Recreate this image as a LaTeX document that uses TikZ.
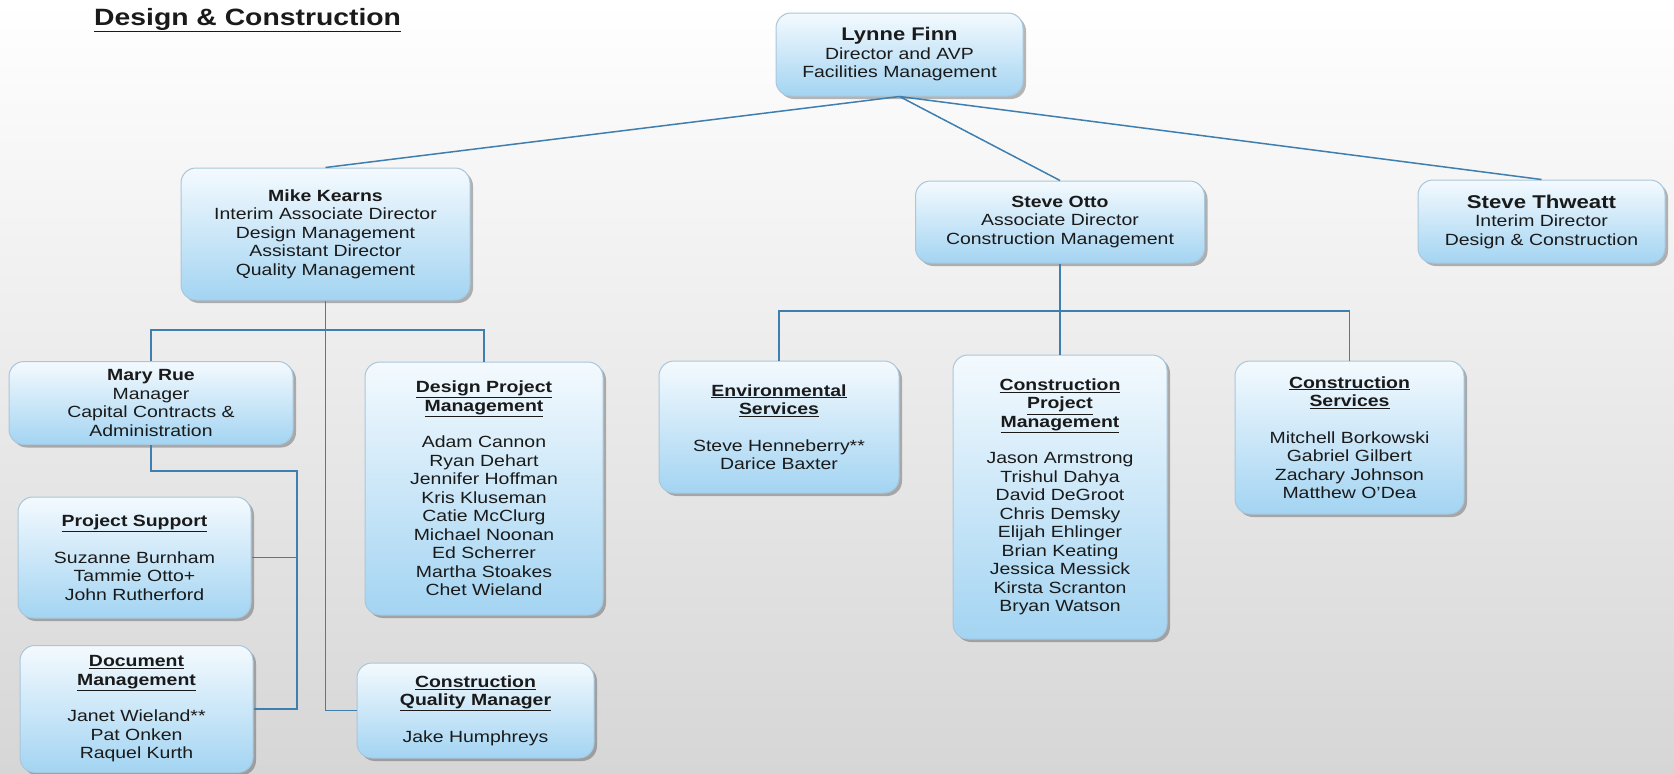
\documentclass[tikz,border=0pt]{standalone}
\usepackage{fontspec}
\setmainfont{Liberation Sans}[FakeStretch=1.2]
\usetikzlibrary{shadows}
\definecolor{ink}{HTML}{1A1A1A}
\definecolor{wireblue}{HTML}{3F7FB0}
\definecolor{boxtop}{HTML}{F4FAFE}
\definecolor{boxbot}{HTML}{A3D4F2}
\definecolor{boxedge}{HTML}{A8C6DC}
\definecolor{bgbot}{HTML}{D6D6D6}
\newcommand{\hd}[1]{\textbf{\underline{#1}}}
\tikzset{
  unit/.style={draw=boxedge, line width=1pt, rounded corners=15pt,
    top color=boxtop, bottom color=boxbot,
    drop shadow={shadow xshift=3pt, shadow yshift=-3pt, opacity=0.35, fill=black!80},
    align=center, inner sep=0pt, text=ink, font=\fontsize{16.2}{18.5}\selectfont},
  wh/.style 2 args={minimum width=#1pt, minimum height=#2pt},
  link/.style={draw=wireblue, line width=1.5pt},
}

\begin{document}
\begin{tikzpicture}[x=1pt, y=-1pt]
\useasboundingbox (0,0) rectangle (1674,774);
\shade[top color=white, bottom color=bgbot] (0,0) rectangle (1674,774);
\node[anchor=base west, inner sep=0pt, text=ink, font=\fontsize{23.6}{28}\selectfont\bfseries] (title) at (94,25) {\underline{Design \& Construction}};
% top
\node[unit, wh={247}{83}] (lynne) at (899.5,54.5) {{\fontsize{18.3}{20}\selectfont\textbf{Lynne Finn}}\\Director and AVP\\Facilities Management};
\node[unit, wh={289}{132}] (mike) at (325.5,234) {\textbf{Mike Kearns}\\Interim Associate Director\\Design Management\\Assistant Director\\Quality Management};
\node[unit, wh={289}{82}] (otto) at (1060,222) {\textbf{Steve Otto}\\Associate Director\\Construction Management};
\node[unit, wh={247}{83}] (thweatt) at (1541.5,221.5) {{\fontsize{18.5}{20}\selectfont\textbf{Steve Thweatt}}\\Interim Director\\Design \& Construction};
% design side
\node[unit, wh={284}{83}] (mary) at (151,403) {\textbf{Mary Rue}\\Manager\\Capital Contracts \&\\Administration};
\node[unit, wh={238}{253}] (dpm) at (484,488.5) {\hd{Design Project}\\\hd{Management}\\[18pt]Adam Cannon\\Ryan Dehart\\Jennifer Hoffman\\Kris Kluseman\\Catie McClurg\\Michael Noonan\\Ed Scherrer\\Martha Stoakes\\Chet Wieland};
\node[unit, wh={233}{121}] (psup) at (134.5,557.5) {\hd{Project Support}\\[18pt]Suzanne Burnham\\Tammie Otto+\\John Rutherford};
\node[unit, wh={233}{127}] (docm) at (136.5,709) {\hd{Document}\\\hd{Management}\\[18pt]Janet Wieland**\\Pat Onken\\Raquel Kurth};
\node[unit, wh={237}{95}] (cqm) at (475.5,710.5) {\hd{Construction}\\\hd{Quality Manager}\\[18pt]Jake Humphreys};
% construction side
\node[unit, wh={240}{132}] (env) at (779,427) {\hd{Environmental}\\\hd{Services}\\[18pt]Steve Henneberry**\\Darice Baxter};
\node[unit, wh={214}{284}] (cpm) at (1060,497) {\hd{Construction}\\\hd{Project}\\\hd{Management}\\[18pt]Jason Armstrong\\Trishul Dahya\\David DeGroot\\Chris Demsky\\Elijah Ehlinger\\Brian Keating\\Jessica Messick\\Kirsta Scranton\\Bryan Watson};
\node[unit, wh={229}{153}] (cs) at (1349.5,437.5) {\hd{Construction}\\\hd{Services}\\[18pt]Mitchell Borkowski\\Gabriel Gilbert\\Zachary Johnson\\Matthew O'Dea};
% lines
\draw[link] (lynne.south) -- (mike.north);
\draw[link] (lynne.south) -- (otto.north);
\draw[link] (lynne.south) -- (thweatt.north);
\coordinate (mbus) at (325.5,330);
\draw[link] (mike.south) -- (cqm.west -| mike.south) -- (cqm.west);
\draw[link] (mary.north) |- (mbus) -| (dpm.north);
\coordinate (mjog) at (297,471);
\draw[link] (mary.south) |- (mjog) -- (mjog |- docm.east) -- (docm.east);
\draw[link] (psup.east) -- (psup.east -| mjog);
\coordinate (obus) at (1060,311);
\draw[link] (otto.south) -- (cpm.north);
\draw[link] (env.north) |- (obus) -| (cs.north);
\end{tikzpicture}
\end{document}
